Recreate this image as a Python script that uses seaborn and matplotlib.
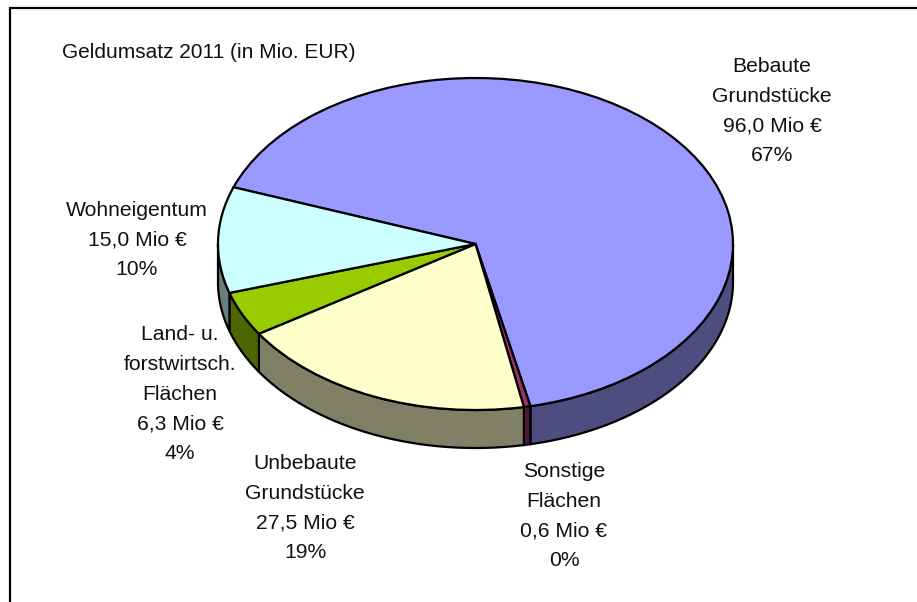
import numpy as np
import seaborn as sns
import matplotlib.pyplot as plt

W, H = 917, 602

names = ['Bebaute\nGrundstücke', 'Sonstige\nFlächen', 'Unbebaute\nGrundstücke',
         'Land- u.\nforstwirtsch.\nFlächen', 'Wohneigentum']
values = [96.0, 0.6, 27.5, 6.3, 15.0]
value_labels = ['96,0 Mio €', '0,6 Mio €', '27,5 Mio €', '6,3 Mio €', '15,0 Mio €']
percents = ['67%', '0%', '19%', '4%', '10%']
top_colors = ['#9999FF', '#993366', '#FFFFCC', '#99CC00', '#CCFFFF']
side_colors = ['#4D4D80', '#4D1933', '#808066', '#4D6600', '#668080']
label_pos = [(772, 111), (564, 516), (305, 508), (180, 394), (137, 240)]
title = 'Geldumsatz 2011 (in Mio. EUR)'

sns.set_theme(style='white')
plt.rcParams['font.family'] = ['Liberation Sans', 'DejaVu Sans']

fig = plt.figure(figsize=(W / 100, H / 100), dpi=100)

# page axes in pixels, only the top and left frame lines are visible
page = fig.add_axes([0, 0, 1, 1])
page.set_xlim(0, W)
page.set_ylim(H, 0)
page.axis('off')
page.plot([10, 10, W], [H, 8, 8], color='black', lw=1.6, solid_joinstyle='miter')
page.text(62, 52, title, fontsize=15, color='#111111', va='center')
for name, val, pct, (x, y) in zip(names, value_labels, percents, label_pos):
    page.text(x, y, f'{name}\n{val}\n{pct}', fontsize=15.2, color='#111111',
              ha='center', va='center', linespacing=1.73)

# pie stretched into an ellipse by its axes box
left, right, top, bottom = 218, 733, 78, 410
ax = fig.add_axes([left / W, 1 - bottom / H, (right - left) / W, (bottom - top) / H])
ax.patch.set_alpha(0)
wedges, _ = ax.pie(values, colors=top_colors, startangle=160.0, counterclock=False,
                   wedgeprops={'edgecolor': 'black', 'linewidth': 1.6, 'zorder': 3})
ax.set_aspect('auto')

# side wall of the front half, built from the wedge angles
depth = 38 / ((bottom - top) / 2)
for wedge, col in zip(wedges, side_colors):
    t1 = (wedge.theta1 % 360)
    t2 = t1 + (wedge.theta2 - wedge.theta1)
    for a, b in [(t1, t2), (t1 - 360, t2 - 360)]:
        a, b = max(a, -180), min(b, 0)
        if b <= a:
            continue
        t = np.radians(np.linspace(a, b, 80))
        xs = np.r_[np.cos(t), np.cos(t)[::-1]]
        ys = np.r_[np.sin(t), np.sin(t)[::-1] - depth]
        ax.fill(xs, ys, facecolor=col, edgecolor='black', lw=1.6, zorder=2, clip_on=False)
for wedge in wedges:
    wedge.set_clip_on(False)
ax.set_xlim(-1, 1)
ax.set_ylim(-1, 1)

fig.savefig('out.png', dpi=100)
